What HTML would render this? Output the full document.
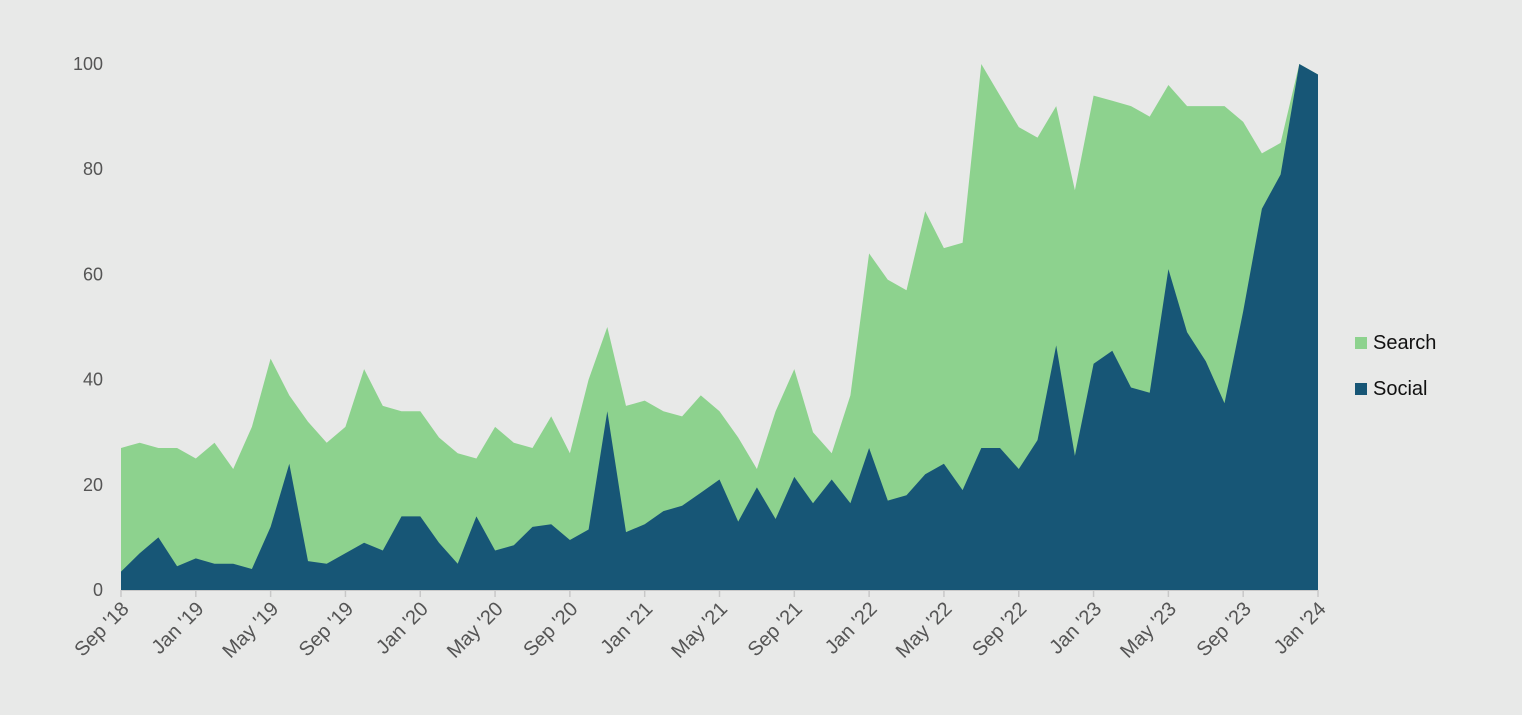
<!DOCTYPE html>
<html><head><meta charset="utf-8"><style>
html,body{margin:0;padding:0;background:#e8e9e8;}
svg{display:block;font-family:"Liberation Sans",sans-serif;}
</style></head><body>
<svg id="c" width="1522" height="715" xmlns="http://www.w3.org/2000/svg">
<rect width="1522" height="715" fill="#e8e9e8"/>
<g id="areas"></g>
<g id="axes" font-size="18" fill="#555"></g>
<rect x="1355" y="337" width="12" height="12" fill="#8dd28e"/>
<text x="1373" y="349" font-size="20" fill="#111">Search</text>
<rect x="1355" y="383" width="12" height="12" fill="#175676"/>
<text x="1373" y="395" font-size="20" fill="#111">Social</text>
</svg>
<script>
var S=[27,28,27,27,25,28,23,31,44,37,32,28,31,42,35,34,34,29,26,25,31,28,27,33,26,40,50,35,36,34,33,37,34,29,23,34,42,30,26,37,64,59,57,72,65,66,100,94,88,86,92,76,94,93,92,90,96,92,92,92,89,83,85,100,98];
var O=[3.5,7,10,4.5,6,5,5,4,12,24,5.5,5,7,9,7.5,14,14,9,5,14,7.5,8.5,12,12.5,9.5,11.5,34,11,12.5,15,16,18.5,21,13,19.5,13.5,21.5,16.5,21,16.5,27,17,18,22,24,19,27,27,23,28.5,46.5,25.5,43,45.5,38.5,37.5,61,49,43.5,35.5,53,72.5,79,100,98];
var x0=121,x1=1318,y0=590,ys=5.26,dx=(x1-x0)/64;
function X(i){return x0+i*dx}function Y(v){return y0-v*ys}
function poly(a,c){var p=x0+","+y0+" ";a.forEach(function(v,i){p+=X(i).toFixed(1)+","+Y(v).toFixed(1)+" "});p+=x1+","+y0;return '<polygon points="'+p+'" fill="'+c+'"/>'}
document.getElementById('areas').innerHTML=poly(S,"#8dd28e")+poly(O,"#175676");
var h='<line x1="'+x0+'" y1="590.5" x2="'+x1+'" y2="590.5" stroke="#c8c8c8"/>';
for(var v=0;v<=100;v+=20)h+='<text x="103" y="'+(Y(v)+6)+'" text-anchor="end">'+v+'</text>';
var L=["Sep '18","Jan '19","May '19","Sep '19","Jan '20","May '20","Sep '20","Jan '21","May '21","Sep '21","Jan '22","May '22","Sep '22","Jan '23","May '23","Sep '23","Jan '24"];
L.forEach(function(l,k){var x=X(k*4);h+='<line x1="'+x+'" y1="590" x2="'+x+'" y2="597" stroke="#c8c8c8" stroke-width="1.5"/>';h+='<text font-size="20" transform="translate('+(x+9)+',610) rotate(-45)" text-anchor="end">'+l+'</text>'});
document.getElementById('axes').innerHTML=h;
</script>
</body></html>
